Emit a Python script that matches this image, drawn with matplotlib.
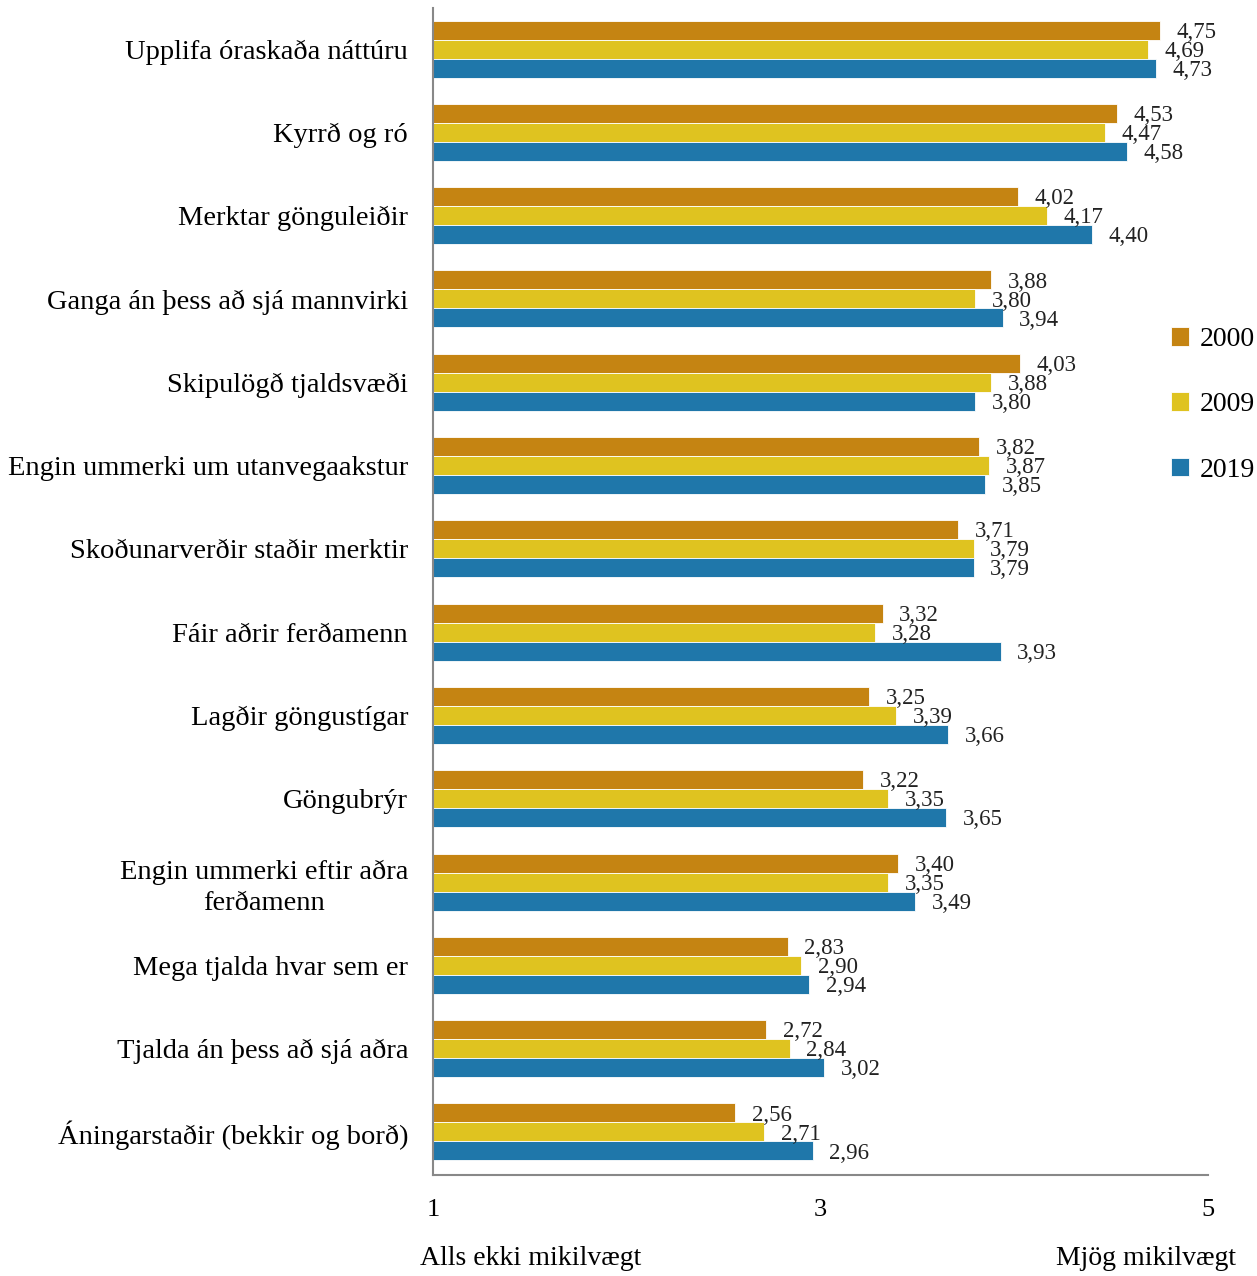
import matplotlib.pyplot as plt
import numpy as np

plt.rcParams['font.family'] = ['Liberation Serif', 'DejaVu Serif']

categories = [
    "Upplifa óraskaða náttúru",
    "Kyrrð og ró",
    "Merktar gönguleiðir",
    "Ganga án þess að sjá mannvirki",
    "Skipulögð tjaldsvæði",
    "Engin ummerki um utanvegaakstur",
    "Skoðunarverðir staðir merktir",
    "Fáir aðrir ferðamenn",
    "Lagðir göngustígar",
    "Göngubrýr",
    "Engin ummerki eftir aðra\nferðamenn",
    "Mega tjalda hvar sem er",
    "Tjalda án þess að sjá aðra",
    "Áningarstaðir (bekkir og borð)",
]
v2000 = [4.75, 4.53, 4.02, 3.88, 4.03, 3.82, 3.71, 3.32, 3.25, 3.22, 3.40, 2.83, 2.72, 2.56]
v2009 = [4.69, 4.47, 4.17, 3.80, 3.88, 3.87, 3.79, 3.28, 3.39, 3.35, 3.35, 2.90, 2.84, 2.71]
v2019 = [4.73, 4.58, 4.40, 3.94, 3.80, 3.85, 3.79, 3.93, 3.66, 3.65, 3.49, 2.94, 3.02, 2.96]
years = ["2000", "2009", "2019"]
colors = ["#C58412", "#DFC320", "#1F77AA"]

fig = plt.figure(figsize=(12.57, 12.76), dpi=100)
ax = fig.add_axes([0.3445, 0.0792, 0.6165, 0.9145])

y = np.arange(len(categories))
h = 0.228
for i, (vals, yr, c) in enumerate(zip([v2000, v2009, v2019], years, colors)):
    pos = y + (i - 1) * h
    ax.barh(pos, np.array(vals) - 1, left=1, height=h, color=c,
            edgecolor="white", linewidth=0.6, label=yr)
    for p, v in zip(pos, vals):
        ax.annotate(f"{v:.2f}".replace(".", ","), (v, p), xytext=(12, -1.5),
                    textcoords="offset points", va="center", ha="left",
                    fontsize=16.5, color="#222222")

ax.set_xlim(1, 5)
ax.set_ylim(len(categories) - 1 + 0.516, -0.492)
ax.set_yticks(y)
ax.set_yticklabels(categories, fontsize=20.5, multialignment="center", linespacing=1.3)
ax.set_xticks([1, 3, 5])
ax.set_xticklabels(["1", "3", "5"], fontsize=19)
ax.tick_params(axis="both", length=0)
ax.tick_params(axis="y", pad=18)
ax.tick_params(axis="x", pad=17)
for s in ["top", "right"]:
    ax.spines[s].set_visible(False)
for s in ["left", "bottom"]:
    ax.spines[s].set_color("#888888")
    ax.spines[s].set_linewidth(1.5)

ax.legend(loc="center left", bbox_to_anchor=(0.952, 0.66), frameon=False,
          fontsize=20, handlelength=0.65, handleheight=0.65, handletextpad=0.4,
          labelspacing=1.45, borderpad=0, borderaxespad=0)

fig.text(0.334, 0.004, "Alls ekki mikilvægt", fontsize=20, ha="left", va="bottom")
fig.text(0.983, 0.004, "Mjög mikilvægt", fontsize=20, ha="right", va="bottom")

fig.savefig("out.png", dpi=100)
